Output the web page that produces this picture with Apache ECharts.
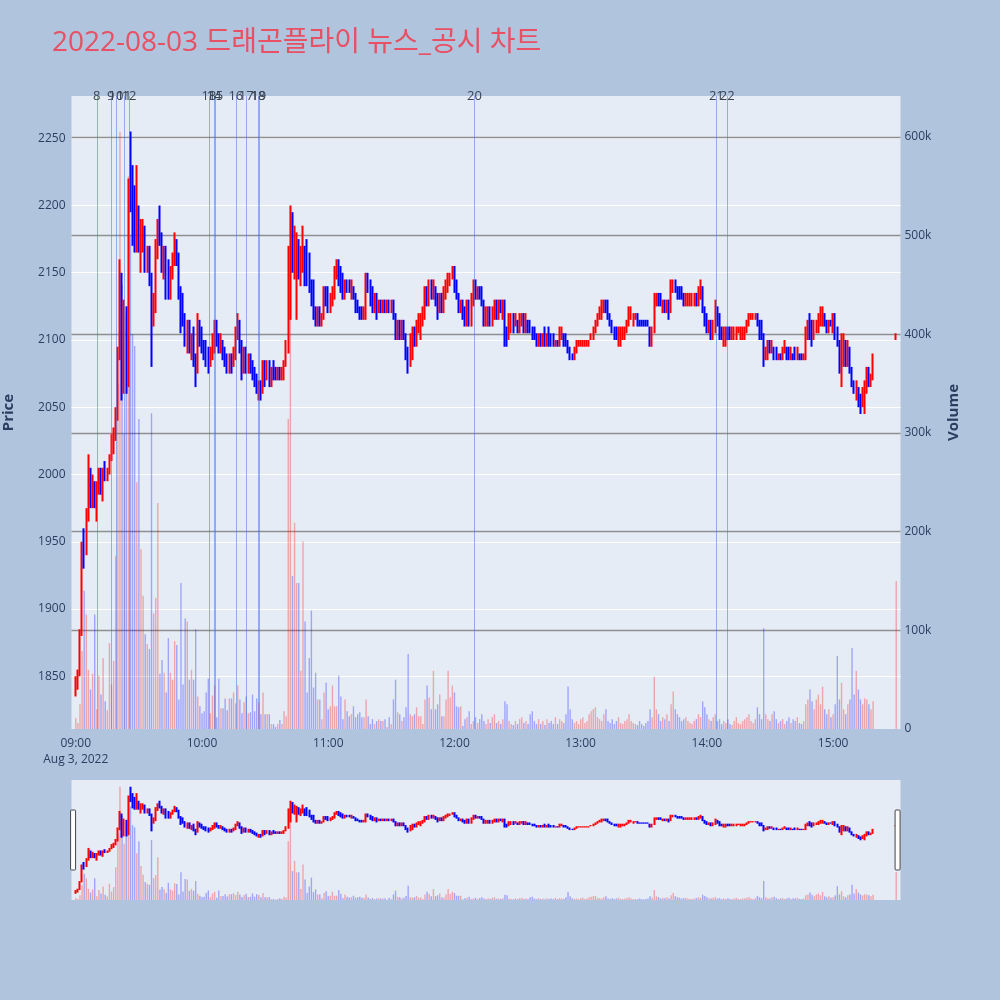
<!DOCTYPE html>
<html><head><meta charset="utf-8">
<script src="https://cdn.jsdelivr.net/npm/echarts@6/dist/echarts.min.js"></script>
<style>html,body{margin:0;padding:0;background:#b0c4de;}#c{width:1000px;height:1000px;}</style>
</head><body><div id="c"></div>
<script>
const chartTitle = '2022-08-03 드래곤플라이 뉴스_공시 차트';
const tradeDay = [2022, 8, 3];
const firstMinute = '09:00';
const closingAuction = '15:30';

const opens = [
1840,1845,1850,1880,1955,1940,1970,2005,1980,1995,
1980,1990,2000,1990,2005,1995,2005,2015,2025,2030,
2045,2090,2145,2065,2120,2070,2250,2200,2210,2170,
2200,2165,2170,2185,2155,2165,2145,2115,2130,2170,
2190,2175,2150,2165,2145,2135,2150,2160,2175,2160,
2135,2130,2115,2100,2110,2095,2100,2085,2075,2115,
2100,2095,2090,2085,2080,2090,2095,2110,2100,2095,
2100,2090,2085,2080,2085,2080,2090,2105,2115,2095,
2080,2090,2080,2085,2080,2075,2070,2060,2065,2060,
2080,2070,2080,2070,2080,2075,2070,2075,2070,2075,
2085,2095,2150,2190,2155,2150,2170,2150,2160,2165,
2170,2145,2140,2130,2120,2115,2120,2110,2115,2135,
2130,2125,2130,2135,2150,2160,2145,2140,2135,2145,
2145,2135,2140,2135,2130,2120,2125,2115,2120,2145,
2140,2135,2125,2130,2120,2130,2125,2130,2125,2130,
2120,2130,2120,2105,2110,2100,2115,2105,2090,2085,
2090,2105,2100,2110,2105,2115,2120,2135,2130,2140,
2135,2140,2130,2120,2130,2125,2135,2140,2145,2145,
2155,2140,2135,2125,2130,2120,2115,2125,2115,2130,
2140,2135,2140,2135,2130,2115,2120,2125,2115,2120,
2125,2120,2130,2125,2130,2105,2100,2110,2115,2110,
2115,2110,2115,2120,2110,2115,2110,2110,2105,2105,
2095,2105,2095,2105,2095,2105,2100,2100,2095,2100,
2095,2100,2105,2100,2095,2090,2090,2085,2090,2095,
2095,2095,2095,2095,2095,2100,2105,2105,2110,2115,
2120,2125,2130,2125,2120,2115,2110,2105,2100,2100,
2100,2105,2105,2110,2115,2115,2115,2120,2115,2115,
2115,2115,2115,2110,2100,2110,2130,2135,2130,2125,
2130,2125,2130,2120,2140,2145,2140,2135,2135,2135,
2125,2125,2125,2130,2130,2135,2130,2135,2140,2125,
2115,2105,2115,2105,2110,2125,2115,2105,2100,2100,
2110,2105,2100,2105,2100,2105,2105,2100,2105,2110,
2115,2115,2115,2115,2120,2115,2110,2100,2085,2090,
2095,2090,2095,2090,2085,2090,2085,2090,2095,2090,
2085,2090,2090,2085,2090,2085,2085,2090,2105,2115,
2110,2100,2105,2110,2115,2115,2120,2115,2110,2115,
2110,2115,2105,2100,2080,2085,2100,2085,2095,2080,
2070,2060,2065,2055,2050,2050,2065,2080,2070,2075,
2100];
const highs = [
1850,1855,1885,1950,1960,1975,2015,2005,2000,1995,
1995,2005,2005,2005,2010,2005,2015,2030,2035,2050,
2095,2160,2150,2130,2125,2220,2255,2230,2215,2230,
2200,2190,2190,2185,2170,2170,2150,2135,2175,2190,
2200,2180,2170,2170,2160,2155,2165,2180,2175,2165,
2140,2135,2120,2115,2115,2105,2110,2090,2120,2115,
2110,2100,2100,2095,2095,2105,2115,2115,2105,2105,
2100,2095,2090,2090,2090,2095,2110,2120,2115,2100,
2095,2095,2090,2090,2085,2080,2075,2070,2070,2085,
2085,2085,2085,2080,2085,2080,2080,2080,2080,2085,
2100,2170,2200,2195,2185,2180,2175,2170,2185,2170,
2175,2165,2145,2145,2125,2125,2125,2120,2140,2140,
2140,2135,2140,2155,2160,2160,2155,2150,2145,2145,
2145,2145,2140,2135,2130,2125,2125,2125,2150,2150,
2145,2140,2135,2135,2130,2130,2130,2130,2130,2130,
2130,2130,2120,2115,2115,2115,2115,2105,2095,2105,
2110,2110,2115,2120,2120,2125,2140,2140,2145,2145,
2145,2140,2135,2135,2135,2140,2145,2150,2150,2155,
2155,2145,2135,2130,2130,2125,2130,2130,2135,2145,
2145,2140,2140,2140,2130,2125,2125,2125,2125,2130,
2130,2130,2130,2130,2130,2110,2120,2120,2120,2120,
2115,2120,2120,2120,2120,2115,2115,2110,2110,2105,
2105,2105,2105,2110,2105,2110,2105,2105,2100,2100,
2110,2110,2105,2105,2100,2095,2090,2095,2100,2100,
2100,2100,2100,2100,2100,2105,2110,2115,2120,2125,
2130,2130,2130,2130,2120,2115,2110,2110,2110,2110,
2110,2110,2115,2125,2125,2120,2120,2120,2115,2115,
2115,2115,2115,2110,2110,2135,2135,2135,2135,2130,
2130,2130,2130,2145,2145,2145,2140,2140,2140,2135,
2135,2135,2135,2135,2135,2135,2140,2145,2140,2125,
2120,2115,2115,2115,2130,2125,2120,2110,2110,2110,
2110,2110,2110,2110,2110,2110,2110,2110,2110,2115,
2120,2120,2120,2120,2120,2115,2115,2105,2095,2100,
2100,2100,2095,2095,2090,2090,2095,2100,2095,2095,
2095,2090,2095,2095,2090,2090,2090,2110,2115,2120,
2115,2115,2115,2120,2125,2125,2120,2115,2115,2115,
2120,2120,2110,2100,2105,2105,2100,2100,2095,2080,
2070,2070,2065,2060,2065,2070,2080,2080,2075,2090,
2105];
const lows = [
1835,1840,1850,1880,1930,1940,1965,1975,1975,1975,
1965,1985,1985,1980,1995,1995,2000,2010,2015,2025,
2040,2085,2055,2060,2060,2065,2195,2170,2165,2165,
2165,2150,2165,2150,2150,2140,2080,2110,2120,2160,
2170,2150,2145,2130,2130,2130,2145,2155,2155,2130,
2105,2110,2095,2090,2090,2085,2080,2065,2075,2095,
2090,2085,2080,2075,2080,2085,2090,2095,2090,2090,
2085,2080,2075,2075,2075,2080,2085,2100,2090,2070,
2075,2075,2075,2075,2070,2065,2060,2055,2055,2060,
2065,2070,2065,2065,2070,2070,2070,2070,2070,2070,
2080,2090,2115,2150,2145,2115,2145,2140,2150,2140,
2140,2135,2125,2115,2110,2110,2110,2110,2115,2125,
2120,2120,2125,2130,2145,2140,2135,2130,2130,2135,
2135,2130,2130,2120,2120,2115,2115,2115,2115,2135,
2125,2120,2120,2115,2120,2120,2120,2120,2120,2120,
2120,2115,2100,2100,2100,2100,2100,2085,2075,2080,
2085,2095,2095,2105,2100,2110,2115,2125,2125,2130,
2130,2125,2115,2120,2120,2120,2130,2135,2140,2145,
2135,2130,2120,2120,2115,2110,2110,2110,2110,2125,
2130,2130,2130,2125,2110,2110,2110,2110,2110,2115,
2115,2115,2120,2115,2095,2095,2100,2105,2105,2110,
2105,2105,2110,2105,2105,2105,2105,2100,2100,2095,
2095,2095,2095,2095,2095,2095,2095,2095,2095,2095,
2095,2100,2095,2095,2090,2085,2085,2085,2090,2095,
2095,2095,2095,2095,2095,2100,2100,2105,2110,2115,
2115,2120,2120,2115,2110,2105,2100,2100,2095,2095,
2100,2100,2105,2110,2115,2110,2115,2110,2110,2110,
2110,2110,2110,2095,2095,2105,2125,2125,2125,2120,
2120,2120,2115,2120,2135,2135,2130,2130,2130,2125,
2125,2125,2125,2125,2125,2125,2125,2130,2120,2110,
2105,2105,2100,2100,2105,2110,2100,2100,2095,2095,
2100,2100,2100,2100,2100,2105,2100,2100,2100,2105,
2110,2115,2115,2115,2110,2100,2100,2080,2085,2085,
2090,2090,2085,2085,2085,2085,2085,2090,2085,2085,
2085,2085,2085,2085,2085,2085,2085,2085,2100,2100,
2095,2100,2105,2105,2110,2110,2110,2105,2105,2110,
2105,2100,2095,2075,2065,2080,2080,2080,2075,2065,
2060,2055,2050,2045,2050,2045,2060,2065,2065,2070,
2100];
const closes = [
1845,1850,1880,1945,1935,1970,2005,1985,1995,1980,
1990,2000,1990,2000,1995,2005,2010,2025,2030,2045,
2090,2150,2065,2120,2070,2215,2200,2175,2170,2225,
2175,2185,2185,2155,2165,2145,2120,2130,2170,2185,
2175,2155,2165,2140,2135,2150,2160,2175,2160,2135,
2115,2115,2100,2110,2095,2100,2085,2075,2115,2100,
2095,2090,2085,2080,2090,2100,2110,2100,2095,2100,
2090,2085,2080,2085,2080,2090,2105,2115,2095,2080,
2090,2080,2085,2080,2075,2070,2065,2065,2060,2080,
2070,2080,2070,2075,2075,2070,2075,2070,2080,2085,
2095,2160,2180,2155,2180,2170,2150,2165,2165,2145,
2145,2140,2130,2120,2115,2120,2110,2115,2135,2130,
2125,2130,2135,2150,2160,2145,2140,2135,2140,2140,
2135,2140,2135,2125,2120,2120,2115,2120,2145,2140,
2130,2125,2130,2120,2130,2125,2130,2125,2130,2120,
2130,2120,2105,2110,2100,2115,2105,2090,2085,2100,
2105,2100,2110,2115,2115,2120,2135,2130,2140,2135,
2140,2130,2120,2130,2125,2135,2140,2145,2150,2155,
2140,2135,2125,2130,2120,2115,2125,2115,2130,2140,
2135,2140,2135,2130,2115,2120,2125,2115,2120,2125,
2120,2130,2125,2130,2105,2100,2115,2115,2110,2115,
2110,2115,2120,2110,2115,2110,2105,2105,2100,2095,
2100,2095,2105,2100,2105,2100,2095,2095,2100,2095,
2105,2105,2095,2095,2090,2085,2085,2095,2095,2100,
2100,2100,2100,2100,2100,2105,2110,2110,2115,2120,
2125,2130,2125,2120,2115,2110,2105,2100,2105,2105,
2105,2110,2110,2120,2120,2120,2120,2115,2115,2115,
2115,2115,2110,2100,2110,2130,2135,2130,2125,2130,
2125,2130,2120,2140,2145,2140,2135,2130,2130,2125,
2130,2130,2130,2135,2135,2130,2140,2140,2125,2115,
2110,2115,2105,2110,2125,2115,2105,2100,2105,2105,
2105,2100,2105,2110,2105,2110,2110,2105,2110,2115,
2120,2120,2120,2120,2115,2105,2100,2085,2095,2095,
2090,2095,2090,2085,2090,2085,2095,2095,2090,2085,
2090,2085,2085,2090,2085,2085,2090,2105,2110,2105,
2100,2110,2115,2115,2120,2125,2110,2110,2115,2110,
2115,2105,2100,2080,2100,2100,2085,2095,2080,2070,
2065,2065,2055,2050,2060,2065,2080,2070,2075,2090,
2105];
const volumesK = [
11,6,25,79,140,116,60,40,56,116,
20,54,35,72,28,19,87,45,69,175,
350,605,450,300,420,560,500,400,388,250,
314,182,135,96,86,81,320,117,133,229,
56,70,57,37,92,57,50,89,85,30,
148,45,112,109,50,60,50,101,33,23,
16,18,37,51,16,34,44,12,51,21,
21,31,19,31,31,37,26,44,30,16,
27,33,16,17,35,18,31,27,15,37,
15,15,15,5,5,2,5,9,5,18,
13,314,530,155,209,148,148,59,190,109,
37,72,120,42,57,30,30,10,37,47,
20,23,44,23,23,54,33,10,30,18,
13,15,23,12,15,17,12,12,30,13,
5,10,5,8,10,8,8,10,2,12,
5,30,50,17,15,8,12,22,76,15,
13,15,22,13,13,5,30,44,32,20,
59,20,25,35,13,13,30,59,32,44,
37,23,22,23,3,10,12,18,5,8,
12,6,10,15,8,5,10,6,12,15,
6,8,5,10,28,25,8,5,4,8,
5,10,12,6,8,5,15,18,8,5,
10,5,8,4,10,6,8,5,12,5,
10,8,6,15,43,20,10,6,8,5,
10,12,6,8,15,18,20,22,12,10,
8,15,20,8,6,10,5,8,12,6,
5,8,10,15,8,6,5,4,8,5,
3,6,8,20,12,53,20,15,8,12,
10,15,8,25,38,20,15,12,8,10,
12,8,6,5,8,10,15,12,28,22,
15,10,8,12,15,8,10,5,8,6,
10,5,4,8,12,6,5,8,10,12,
15,8,6,10,22,15,10,102,15,10,
8,15,18,10,6,8,10,5,8,12,
6,10,8,12,6,5,8,25,30,40,
28,20,30,35,25,43,20,15,20,12,
15,25,74,30,47,20,15,25,30,82,
35,59,40,30,25,31,30,25,20,28,
150];

const newsLabels = ['8','9','10','11','12','13','14','15','16','17','18','19','20','21','22'];
const newsTimes = ['09:10:00','09:16:38','09:19:08','09:22:57','09:25:20','10:03:19','10:05:40','10:06:29','10:16:06','10:21:02','10:26:40','10:27:00','12:09:30','14:04:30','14:09:42'];
const priceTicks = [1850,1900,1950,2000,2050,2100,2150,2200,2250];
const volumeTickStepK = 100;
const xRangeStart = '08:58:18';
const xRangeEnd = '15:31:42';
const priceRange = [1810.8, 2281.4];
const volumeRangeK = [0, 641.3];

function at(hms) {
  const p = hms.split(':').map(Number);
  return new Date(tradeDay[0], tradeDay[1] - 1, tradeDay[2], p[0], p[1], p[2] || 0).getTime();
}
// one bar per minute of the continuous session, then the closing auction bar
const times = [];
for (let i = 0; i < closes.length - 1; i++) times.push(at(firstMinute) + i * 60000);
times.push(at(closingAuction));

const UP = '#ff0000', DOWN = '#0000ff';
const UPV = 'rgba(255,0,0,0.3)', DOWNV = 'rgba(0,0,255,0.3)';
const isUp = i => closes[i] > opens[i];
const candleData = times.map((t, i) => {
  const c = isUp(i) ? UP : DOWN;
  return { value: [t, opens[i], closes[i], lows[i], highs[i]],
    itemStyle: { color: c, color0: c, borderColor: c, borderColor0: c } };
});
const volData = times.map((t, i) => ({ value: [t, volumesK[i]], itemStyle: { color: isUp(i) ? UPV : DOWNV } }));

const months = ['Jan','Feb','Mar','Apr','May','Jun','Jul','Aug','Sep','Oct','Nov','Dec'];
const pad = n => (n < 10 ? '0' : '') + n;
const FONT = '"Open Sans", "Noto Sans", sans-serif';
const AX = '#2a3f5f';

const plotLeft = 71.5, plotRight = 99.5, plotTop = 96, plotH = 633;
const sliderTop = 780, sliderH = 120;

const option = {
  animation: false,
  backgroundColor: '#b0c4de',
  title: { text: chartTitle, left: 47, top: 24,
    textStyle: { color: 'rgb(232,80,100)', fontSize: 28, fontWeight: 'normal', fontFamily: '"Open Sans", "Noto Sans CJK KR", sans-serif' } },
  grid: [
    { left: plotLeft, right: plotRight, top: plotTop, height: plotH, show: true, backgroundColor: '#e5ecf6', borderWidth: 0, outerBoundsMode: 'none', containLabel: false },
    { left: plotLeft, right: plotRight, top: sliderTop, height: sliderH, show: true, backgroundColor: '#e5ecf6', borderWidth: 0, outerBoundsMode: 'none', containLabel: false }
  ],
  xAxis: [
    { type: 'time', gridIndex: 0, min: at(xRangeStart), max: at(xRangeEnd),
      minInterval: 3600000, maxInterval: 3600000,
      axisLine: { show: false }, axisTick: { show: false }, splitLine: { show: false },
      axisLabel: { color: AX, fontSize: 12, fontFamily: FONT, margin: 7, lineHeight: 16, hideOverlap: false,
        formatter: function (v) {
          const d = new Date(v);
          let s = pad(d.getHours()) + ':' + pad(d.getMinutes());
          if (d.getHours() === 9 && d.getMinutes() === 0) s += '\n' + months[d.getMonth()] + ' ' + d.getDate() + ', ' + d.getFullYear();
          return s;
        } } },
    { type: 'time', gridIndex: 1, min: at(xRangeStart), max: at(xRangeEnd), show: false }
  ],
  yAxis: [
    { type: 'value', gridIndex: 0, min: priceRange[0], max: priceRange[1], position: 'left',
      name: 'Price', nameLocation: 'middle', nameGap: 55, nameRotate: 90,
      nameTextStyle: { color: AX, fontSize: 15, fontWeight: 'bold', fontFamily: FONT },
      axisLine: { show: false },
      axisTick: { show: false, customValues: priceTicks },
      axisLabel: { color: AX, fontSize: 12, fontFamily: FONT, margin: 6, customValues: priceTicks, formatter: v => String(v) },
      splitLine: { show: true, lineStyle: { color: '#ffffff', width: 1 } } },
    { type: 'value', gridIndex: 0, min: volumeRangeK[0], max: volumeRangeK[1], interval: volumeTickStepK, position: 'right',
      name: 'Volume', nameLocation: 'middle', nameGap: 46, nameRotate: 90,
      nameTextStyle: { color: AX, fontSize: 15, fontWeight: 'bold', fontFamily: FONT },
      axisLine: { show: false }, axisTick: { show: false },
      axisLabel: { color: AX, fontSize: 12, fontFamily: FONT, margin: 4, showMaxLabel: false,
        formatter: v => v === 0 ? '0' : v + 'k' },
      splitLine: { show: true, showMinLine: false, showMaxLine: false, lineStyle: { color: '#8f8f8f', width: 1.3 } } },
    { type: 'value', gridIndex: 1, min: priceRange[0], max: priceRange[1], show: false, splitLine: { show: false } },
    { type: 'value', gridIndex: 1, min: volumeRangeK[0], max: volumeRangeK[1], show: false, splitLine: { show: false } }
  ],
  dataZoom: [{
    type: 'slider', xAxisIndex: 0, filterMode: 'none', start: 0, end: 100,
    left: plotLeft, right: 102, top: 810, height: 60,
    backgroundColor: 'rgba(0,0,0,0)', borderColor: 'rgba(0,0,0,0)', fillerColor: 'rgba(0,0,0,0)',
    showDataShadow: false, showDetail: false, brushSelect: false, moveHandleSize: 0,
    handleIcon: 'path://M1,0 L4,0 Q5,0 5,1 L5,59 Q5,60 4,60 L1,60 Q0,60 0,59 L0,1 Q0,0 1,0 Z', handleSize: '100%',
    handleStyle: { color: '#ffffff', borderColor: '#444444', borderWidth: 1 },
    emphasis: { handleStyle: { color: '#ffffff', borderColor: '#444444', borderWidth: 1 } },
    dataBackground: { lineStyle: { opacity: 0 }, areaStyle: { opacity: 0 } },
    selectedDataBackground: { lineStyle: { opacity: 0 }, areaStyle: { opacity: 0 } }
  }],
  series: [
    { type: 'bar', name: 'Volume', xAxisIndex: 0, yAxisIndex: 1, data: volData, barWidth: 1.4, z: 1, silent: true },
    { type: 'candlestick', name: 'Price', xAxisIndex: 0, yAxisIndex: 0, data: candleData, barWidth: 1, z: 3,
      itemStyle: { borderWidth: 2 },
      markLine: { silent: true, symbol: ['none', 'none'], animation: false,
        lineStyle: { color: 'rgba(65,105,225,0.5)', width: 1, type: 'solid' },
        label: { show: true, position: 'end', distance: -7, formatter: '{b}', color: '#3a4456', fontSize: 13, fontFamily: FONT },
        data: newsTimes.map((t, i) => ({ name: newsLabels[i], xAxis: at(t) })) } },
    { type: 'bar', xAxisIndex: 1, yAxisIndex: 3, data: volData, barWidth: 1.4, z: 1, silent: true },
    { type: 'candlestick', xAxisIndex: 1, yAxisIndex: 2, data: candleData, barWidth: 1, z: 3, silent: true,
      itemStyle: { borderWidth: 2 } }
  ]
};
const chart = echarts.init(document.getElementById('c'));
chart.setOption(option);
</script></body></html>
